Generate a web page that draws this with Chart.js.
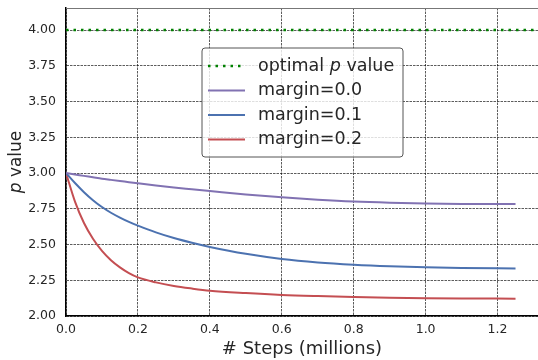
<!DOCTYPE html>
<html>
<head>
<meta charset="utf-8">
<script src="https://cdn.jsdelivr.net/npm/chart.js@4/dist/chart.umd.min.js"></script>
<style>
  html, body { margin: 0; padding: 0; background: #fff; }
  #wrap { width: 538px; height: 360px; position: relative; }
</style>
</head>
<body>
<div id="wrap"><canvas id="pChart"></canvas></div>
<script>
// valores (passos em milhões)
const steps = [0, 0.025, 0.05, 0.075, 0.1, 0.125, 0.15, 0.175, 0.2, 0.25, 0.3, 0.35, 0.4, 0.5, 0.6, 0.7, 0.8, 0.9, 1.0, 1.1, 1.25];
const margin00 = [3.00, 2.99, 2.98, 2.97, 2.96, 2.952, 2.944, 2.936, 2.928, 2.912, 2.898, 2.886, 2.874, 2.850, 2.830, 2.813, 2.800, 2.792, 2.787, 2.784, 2.783];
const margin01 = [3.00, 2.93, 2.866, 2.81, 2.762, 2.722, 2.688, 2.658, 2.632, 2.585, 2.545, 2.512, 2.483, 2.435, 2.399, 2.375, 2.359, 2.348, 2.341, 2.336, 2.333];
const margin02 = [3.00, 2.80, 2.65, 2.54, 2.455, 2.39, 2.34, 2.30, 2.27, 2.235, 2.21, 2.192, 2.177, 2.16, 2.147, 2.139, 2.133, 2.128, 2.125, 2.123, 2.121];
const optimalX = [0, 1.3125];
const optimalP = [4.0, 4.0];

const xTicks = [0, 0.2, 0.4, 0.6, 0.8, 1.0, 1.2];
const yTicks = [2.00, 2.25, 2.50, 2.75, 3.00, 3.25, 3.50, 3.75, 4.00];

const FONT = '"DejaVu Sans", sans-serif';
const TXT = '#262626';

const toPoints = (xs, ys) => xs.map((x, i) => ({ x: x, y: ys[i] }));

// legenda dentro da área do gráfico + spine superior + título do eixo y
const extrasPlugin = {
  id: 'extras',
  afterDraw(chart) {
    const { ctx, chartArea } = chart;
    ctx.save();

    // spine de cima
    ctx.strokeStyle = '#777';
    ctx.lineWidth = 1;
    ctx.beginPath();
    ctx.moveTo(chartArea.left, chartArea.top + 0.5);
    ctx.lineTo(chartArea.right, chartArea.top + 0.5);
    ctx.stroke();

    // título do eixo y: "p value" com p em itálico
    ctx.translate(17, (chartArea.top + chartArea.bottom) / 2);
    ctx.rotate(-Math.PI / 2);
    ctx.fillStyle = TXT;
    ctx.textBaseline = 'middle';
    ctx.font = 'italic 17px ' + FONT;
    const wp = ctx.measureText('p').width;
    ctx.font = '17px ' + FONT;
    const wv = ctx.measureText(' value').width;
    let x0 = -(wp + wv) / 2;
    ctx.font = 'italic 17px ' + FONT;
    ctx.fillText('p', x0, 0);
    ctx.font = '17px ' + FONT;
    ctx.fillText(' value', x0 + wp, 0);
    ctx.restore();

    // legenda
    ctx.save();
    const bx = 202, by = 48, bw = 201, bh = 109, r = 3;
    ctx.beginPath();
    ctx.moveTo(bx + r, by);
    ctx.arcTo(bx + bw, by, bx + bw, by + bh, r);
    ctx.arcTo(bx + bw, by + bh, bx, by + bh, r);
    ctx.arcTo(bx, by + bh, bx, by, r);
    ctx.arcTo(bx, by, bx + bw, by, r);
    ctx.closePath();
    ctx.fillStyle = 'rgba(255,255,255,0.8)';
    ctx.fill();
    ctx.strokeStyle = '#555';
    ctx.lineWidth = 1;
    ctx.stroke();

    const rows = [66, 90.5, 115, 139.5];
    chart.data.datasets.forEach((ds, i) => {
      const y = rows[i];
      ctx.strokeStyle = ds.borderColor;
      ctx.lineWidth = ds.borderWidth;
      ctx.setLineDash(ds.borderDash || []);
      ctx.beginPath();
      ctx.moveTo(208, y);
      ctx.lineTo(245, y);
      ctx.stroke();
      ctx.setLineDash([]);
      ctx.fillStyle = TXT;
      ctx.textBaseline = 'middle';
      if (i === 0) {
        ctx.font = '17.5px ' + FONT;
        ctx.fillText('optimal ', 258, y);
        let w = ctx.measureText('optimal ').width;
        ctx.font = 'italic 17.5px ' + FONT;
        ctx.fillText('p', 258 + w, y);
        w += ctx.measureText('p').width;
        ctx.font = '17.5px ' + FONT;
        ctx.fillText(' value', 258 + w, y);
      } else {
        ctx.font = '17.5px ' + FONT;
        ctx.fillText(ds.label, 258, y);
      }
    });
    ctx.restore();
  }
};

new Chart(document.getElementById('pChart').getContext('2d'), {
  type: 'line',
  data: {
    datasets: [
      {
        label: 'optimal p value',
        data: toPoints(optimalX, optimalP),
        borderColor: '#008000',
        borderWidth: 2.5,
        borderDash: [2.5, 5],
        pointRadius: 0
      },
      {
        label: 'margin=0.0',
        data: toPoints(steps, margin00),
        borderColor: '#8172B2',
        borderWidth: 2,
        pointRadius: 0,
        cubicInterpolationMode: 'monotone'
      },
      {
        label: 'margin=0.1',
        data: toPoints(steps, margin01),
        borderColor: '#4C72B0',
        borderWidth: 2,
        pointRadius: 0,
        cubicInterpolationMode: 'monotone'
      },
      {
        label: 'margin=0.2',
        data: toPoints(steps, margin02),
        borderColor: '#C44E52',
        borderWidth: 2,
        pointRadius: 0,
        cubicInterpolationMode: 'monotone'
      }
    ]
  },
  options: {
    responsive: true,
    maintainAspectRatio: false,
    animation: false,
    layout: { padding: { top: 8, right: 0, left: 0, bottom: 0 } },
    plugins: {
      legend: { display: false },
      tooltip: { enabled: false }
    },
    scales: {
      x: {
        type: 'linear',
        min: 0,
        max: 1.3125,
        afterBuildTicks: scale => { scale.ticks = xTicks.map(v => ({ value: v })); },
        afterFit: scale => { scale.height = 44; scale.paddingLeft = 0; scale.paddingRight = 0; },
        ticks: {
          color: TXT,
          font: { family: FONT, size: 12.5 },
          padding: 6,
          maxRotation: 0,
          callback: v => v.toFixed(1)
        },
        grid: { color: 'rgba(0,0,0,0.8)', lineWidth: 0.8, drawTicks: false },
        border: { display: true, color: '#000', width: 1.5, dash: [2.5, 1] },
        title: {
          display: true,
          text: '# Steps (millions)',
          color: TXT,
          font: { family: FONT, size: 18 },
          padding: { top: 0, bottom: 0 }
        }
      },
      y: {
        type: 'linear',
        min: 2.0,
        max: 4.154,
        afterBuildTicks: scale => { scale.ticks = yTicks.map(v => ({ value: v })); },
        afterFit: scale => { scale.width = 66; scale.paddingTop = 0; scale.paddingBottom = 0; },
        ticks: {
          color: TXT,
          font: { family: FONT, size: 12.5 },
          padding: 10,
          callback: v => v.toFixed(2)
        },
        grid: { color: 'rgba(0,0,0,0.8)', lineWidth: 0.8, drawTicks: false },
        border: { display: true, color: '#000', width: 1.5, dash: [2.5, 1] }
      }
    }
  },
  plugins: [extrasPlugin]
});
</script>
</body>
</html>
